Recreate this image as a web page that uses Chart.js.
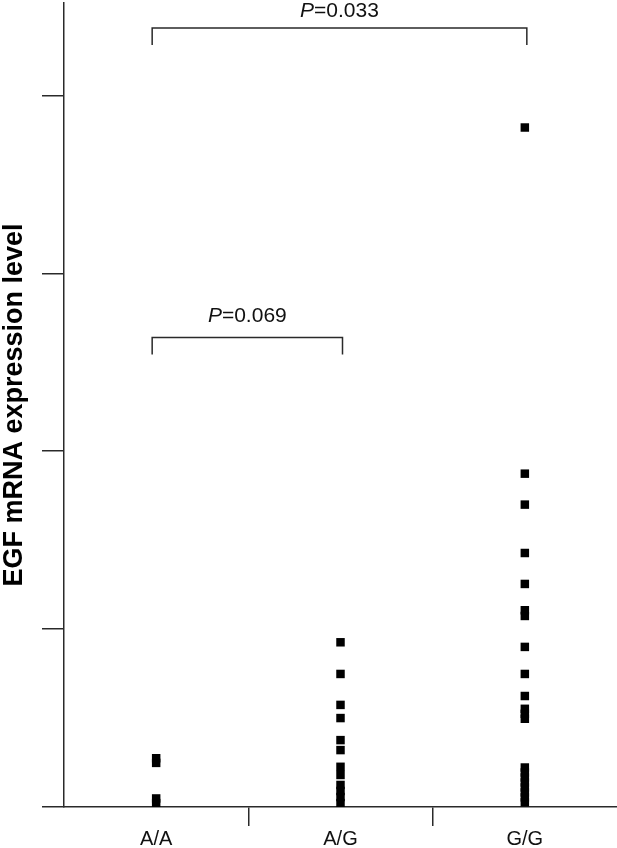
<!DOCTYPE html>
<html>
<head>
<meta charset="utf-8">
<script src="https://cdn.jsdelivr.net/npm/chart.js@4/dist/chart.umd.min.js"></script>
<style>
  html, body { margin: 0; padding: 0; background: #fff; }
  #wrap { width: 617px; height: 848px; }
</style>
</head>
<body>
<div id="wrap"><canvas id="c" width="617" height="848"></canvas></div>
<script>
// ---- data ----
const categories = ['A/A', 'A/G', 'G/G'];
const valuesAA = [1.37, 1.24, 0.24, 0.11];
const valuesAG = [4.63, 3.74, 2.87, 2.50, 1.88, 1.60, 1.13, 0.90, 0.62, 0.45, 0.28, 0.11];
const valuesGG = [19.10, 9.37, 8.50, 7.14, 6.27, 5.53, 5.37, 4.50, 3.74, 3.12, 2.76, 2.62, 2.48,
                  1.11, 0.97, 0.83, 0.69, 0.55, 0.41, 0.27, 0.13];
const yTickStep = 5;
const yMax = 22.6;
const yAxisTitle = 'EGF mRNA expression level';
const comparisons = [
  { from: 'A/A', to: 'A/G', p: '0.069' },
  { from: 'A/A', to: 'G/G', p: '0.033' }
];
const comparisonLevels = [13.2, 21.9];

const FONT = "'Liberation Sans', Arial, Helvetica, sans-serif";
const AXIS_COLOR = '#2a2a2a';

function toPoints(cat, vals) {
  return vals.map(v => ({ x: cat, y: v }));
}

const bracketPlugin = {
  id: 'brackets',
  afterDatasetsDraw(chart) {
    const ctx = chart.ctx;
    const xs = chart.scales.x, ys = chart.scales.y;
    ctx.save();
    ctx.strokeStyle = AXIS_COLOR;
    ctx.lineWidth = 1.5;
    ctx.fillStyle = '#111';
    comparisons.forEach((c, i) => {
      const x1 = xs.getPixelForValue(categories.indexOf(c.from)) - 4;
      const x2 = xs.getPixelForValue(categories.indexOf(c.to)) + 2;
      const y = ys.getPixelForValue(comparisonLevels[i]);
      const drop = 17;
      ctx.beginPath();
      ctx.moveTo(x1, y + drop);
      ctx.lineTo(x1, y);
      ctx.lineTo(x2, y);
      ctx.lineTo(x2, y + drop);
      ctx.stroke();
      // label: italic P + "=value"
      const fs = 21;
      const italic = 'italic ' + fs + 'px ' + FONT;
      const normal = fs + 'px ' + FONT;
      ctx.font = italic;
      const wP = ctx.measureText('P').width;
      ctx.font = normal;
      const rest = '=' + c.p;
      const wR = ctx.measureText(rest).width;
      const cx = (x1 + x2) / 2;
      const startX = cx - (wP + wR) / 2;
      const baseY = y - (i === 0 ? 15 : 11);
      ctx.textBaseline = 'alphabetic';
      ctx.textAlign = 'left';
      ctx.font = italic;
      ctx.fillText('P', startX, baseY);
      ctx.font = normal;
      ctx.fillText(rest, startX + wP, baseY);
    });
    ctx.restore();
  }
};

const pointOpts = {
  pointStyle: 'rect',
  pointRadius: 6,
  pointHoverRadius: 6,
  backgroundColor: '#000',
  borderColor: '#000',
  borderWidth: 0,
  clip: { left: 20, right: 20, top: 20, bottom: 0 }
};

new Chart(document.getElementById('c'), {
  type: 'scatter',
  data: {
    labels: categories,
    datasets: [
      Object.assign({ label: categories[0], data: toPoints(categories[0], valuesAA) }, pointOpts),
      Object.assign({ label: categories[1], data: toPoints(categories[1], valuesAG) }, pointOpts),
      Object.assign({ label: categories[2], data: toPoints(categories[2], valuesGG) }, pointOpts)
    ]
  },
  options: {
    responsive: false,
    animation: false,
    devicePixelRatio: 1,
    layout: { autoPadding: false, padding: { top: 3, right: -3, bottom: -5, left: 0 } },
    plugins: {
      legend: { display: false },
      tooltip: { enabled: false }
    },
    scales: {
      x: {
        type: 'category',
        labels: categories,
        offset: true,
        border: { display: true, color: AXIS_COLOR, width: 1.5 },
        grid: {
          offset: true,
          drawOnChartArea: false,
          drawTicks: true,
          tickLength: 19,
          color: ctx => (ctx.index === 1 || ctx.index === 2) ? AXIS_COLOR : 'rgba(0,0,0,0)',
          lineWidth: 1.5
        },
        ticks: {
          color: '#111',
          padding: 4,
          font: { family: FONT, size: 20, lineHeight: 0.95 },
          maxRotation: 0
        }
      },
      y: {
        type: 'linear',
        min: 0,
        max: yMax,
        border: { display: true, color: AXIS_COLOR, width: 1.5 },
        grid: {
          drawOnChartArea: false,
          drawTicks: true,
          tickLength: 22,
          color: AXIS_COLOR,
          lineWidth: 1.5
        },
        ticks: {
          display: false,
          stepSize: yTickStep,
          includeBounds: false
        },
        title: {
          display: true,
          text: yAxisTitle,
          color: '#000',
          font: { family: FONT, size: 27, weight: 'bold', lineHeight: 1 },
          padding: { top: 1, bottom: 14 }
        }
      }
    }
  },
  plugins: [bracketPlugin]
});
</script>
</body>
</html>
